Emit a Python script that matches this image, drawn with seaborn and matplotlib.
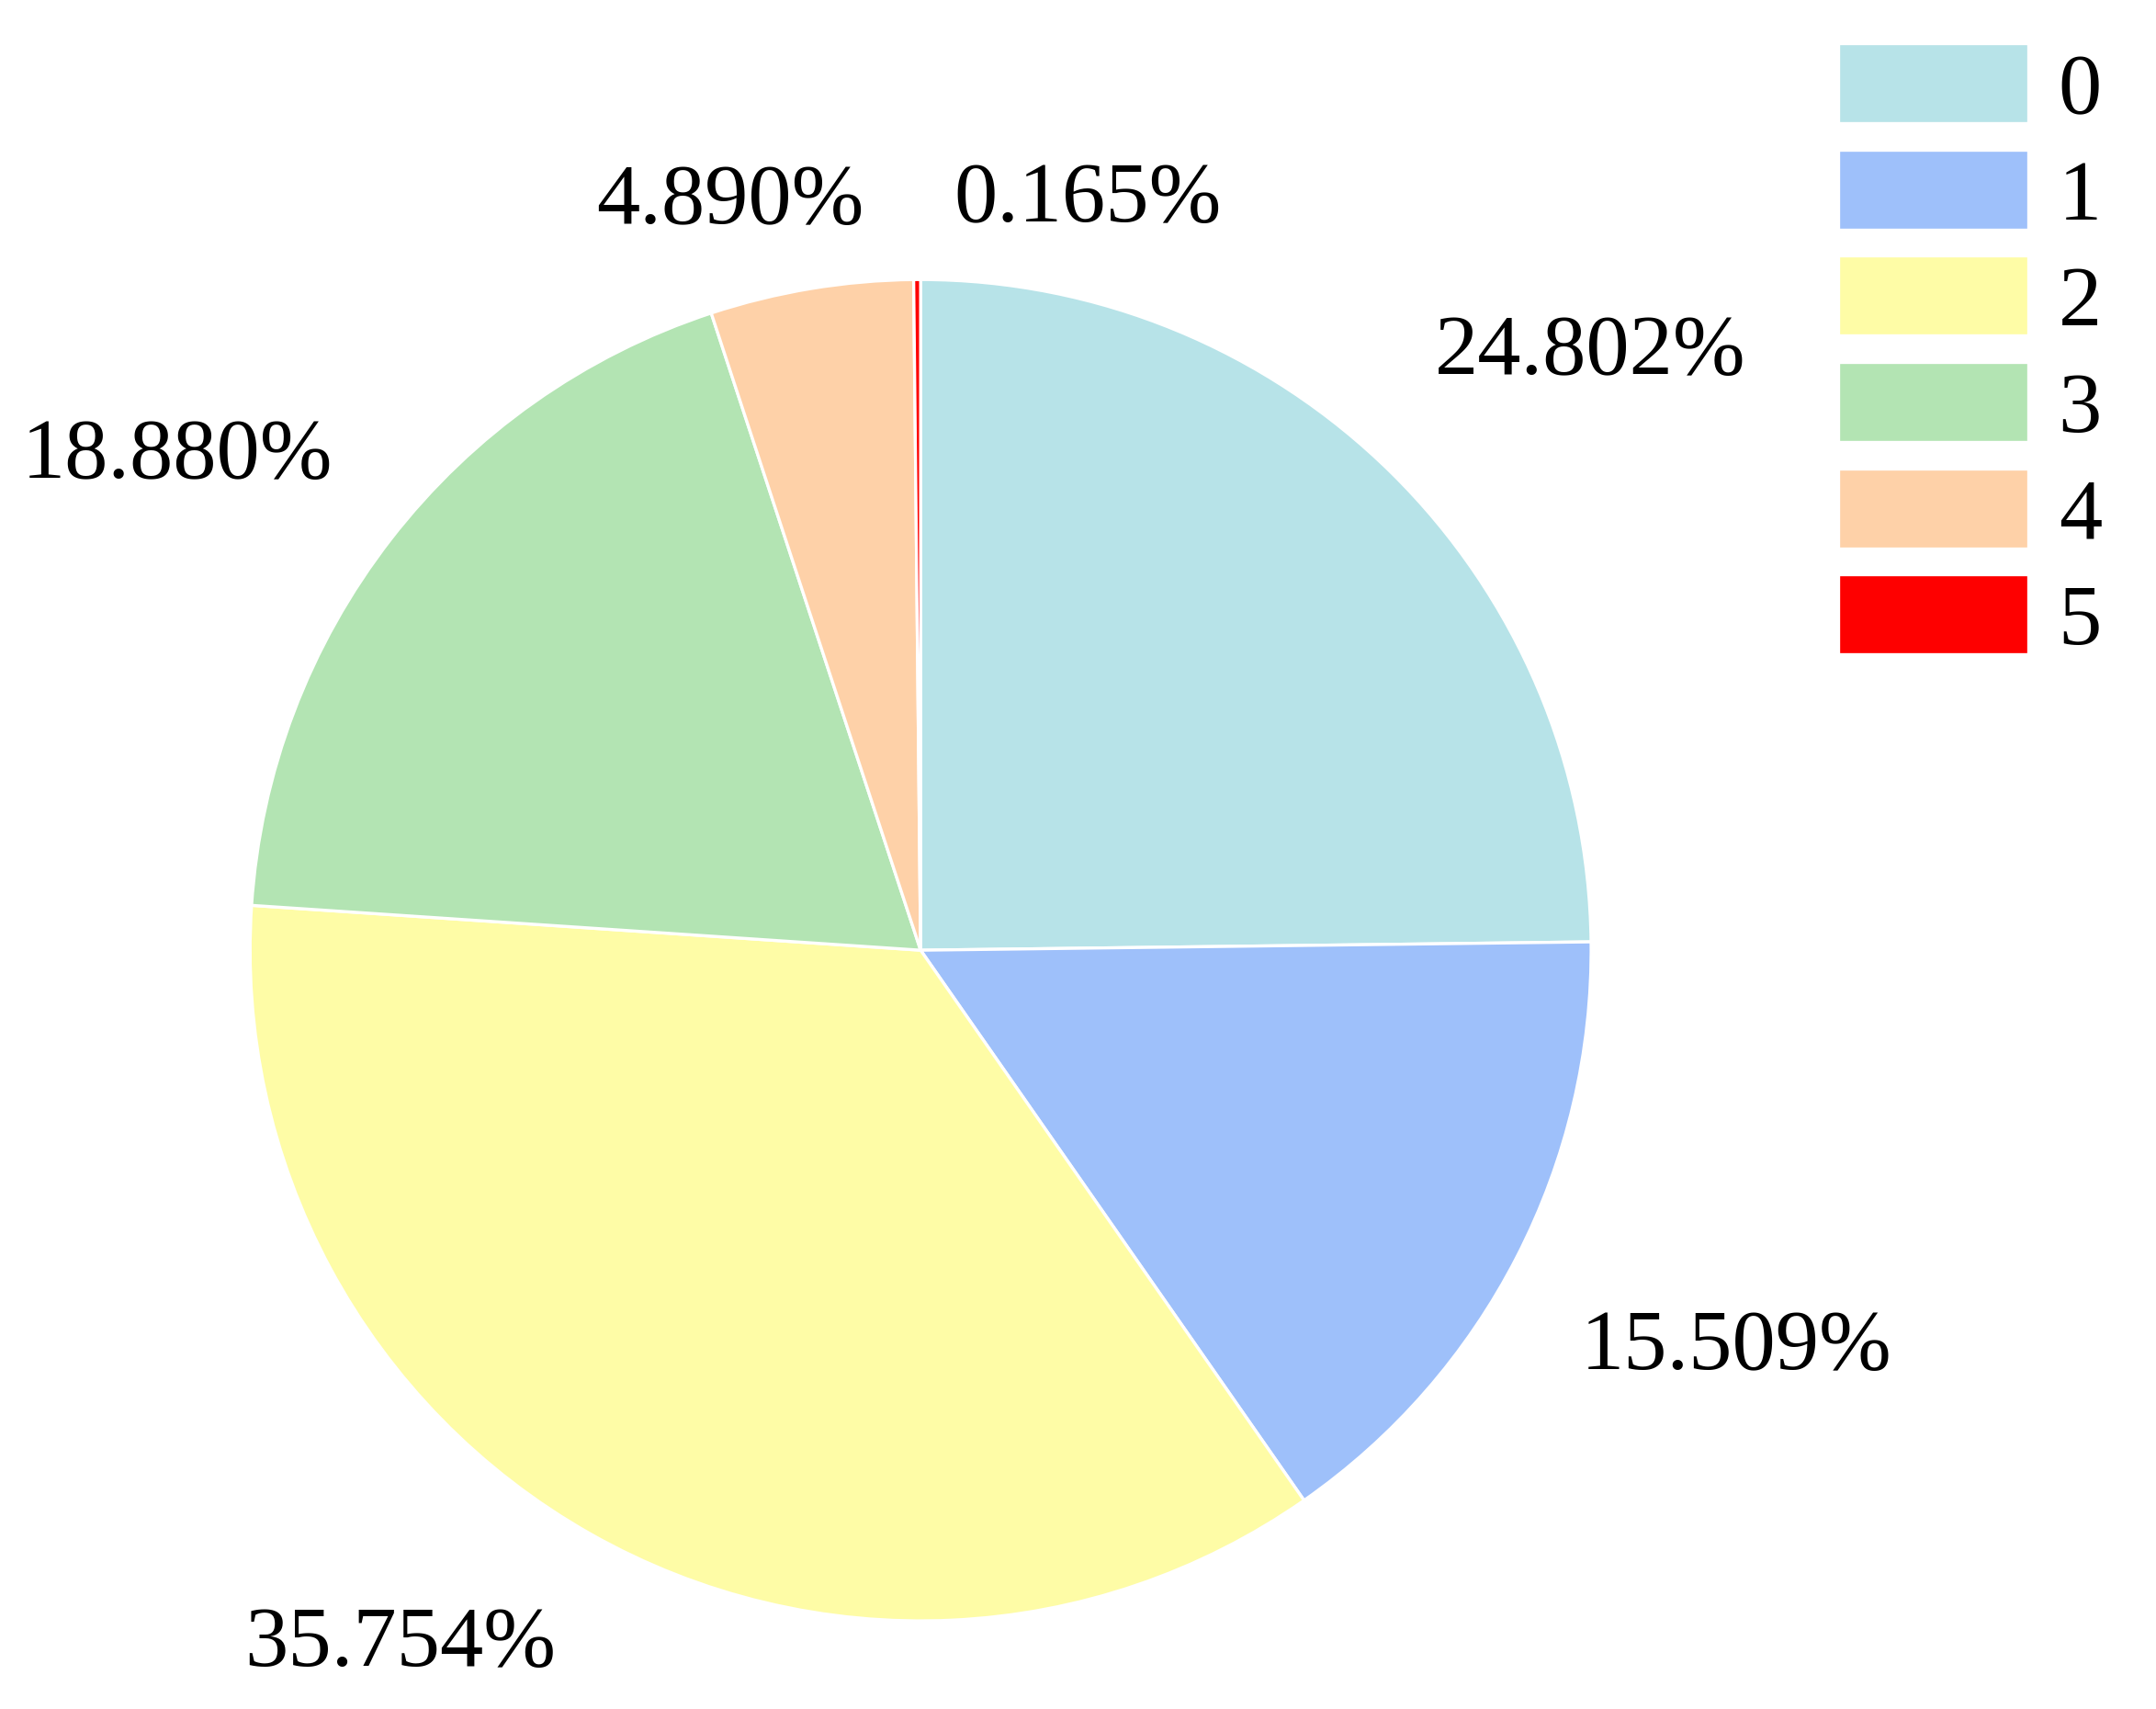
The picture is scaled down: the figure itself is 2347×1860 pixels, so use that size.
import matplotlib
matplotlib.use("Agg")
import matplotlib.pyplot as plt
import seaborn as sns
import numpy as np

sns.set_theme(style="white")
plt.rcParams['font.family'] = ['Liberation Serif', 'DejaVu Serif']

categories = ['0', '1', '2', '3', '4', '5']
values = [24.802, 15.509, 35.754, 18.880, 4.890, 0.165]
colors = ['#b7e3e8', '#9ec0fa', '#fefca6', '#b3e4b3', '#fed1a8', '#fe0000']
label_dist = [1.25, 1.30, 1.19, 1.20, 1.13, 1.117]
label_shift = [0.12, 0.06, -0.19, -0.16, -0.10, 0.255]  # horizontal nudge (radius units)

fig = plt.figure(figsize=(11.735, 9.3), dpi=200)
ax = fig.add_axes([0.116, 0.051, 0.622, 0.786])
wedges, _ = ax.pie(values, colors=colors, startangle=90, counterclock=False,
                   wedgeprops=dict(edgecolor='white', linewidth=1.2))
for w, v, d, s in zip(wedges, values, label_dist, label_shift):
    ang = np.deg2rad((w.theta1 + w.theta2) / 2)
    ax.text(d * np.cos(ang) + s, d * np.sin(ang), f"{v:.3f}%",
            ha='center', va='center', fontsize=34, color='black')
ax.set_xlim(-1.0, 1.0); ax.set_ylim(-1.0, 1.0)
ax.set_aspect('equal')
ax.axis('off')

leg = fig.legend(wedges, categories, loc='upper right', bbox_to_anchor=(0.995, 1.0),
                 frameon=False, fontsize=34, handlelength=2.19, handleheight=1.04,
                 labelspacing=0.21, handletextpad=0.35, borderaxespad=0.1)
for t in leg.get_texts():
    t.set_color('black')
fig.savefig("out.png", dpi=200)
